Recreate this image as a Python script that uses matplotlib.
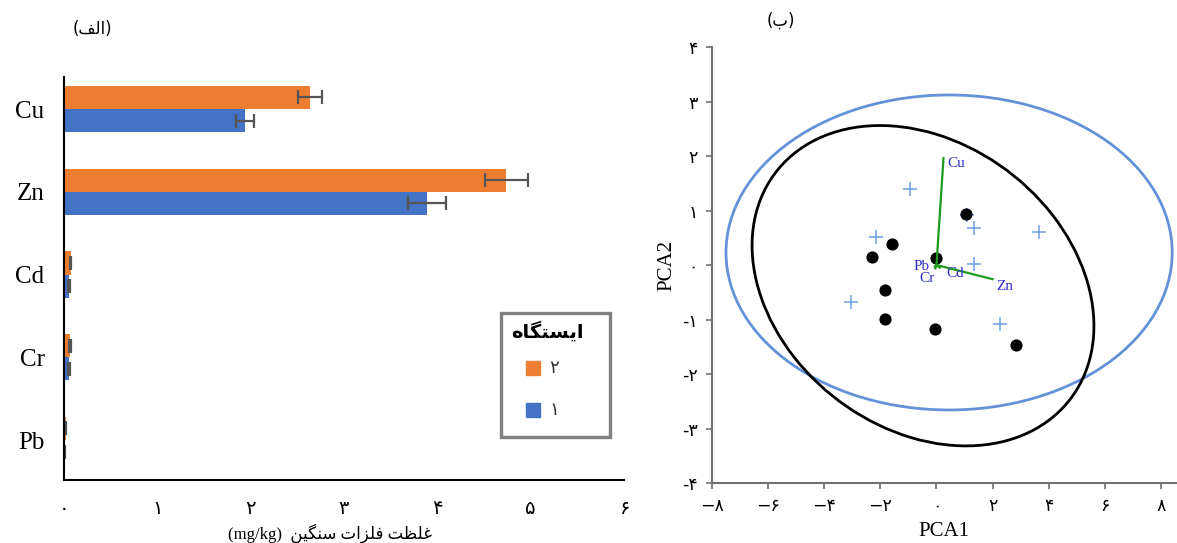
import numpy as np
import matplotlib
matplotlib.use('Agg')
import matplotlib.pyplot as plt
from matplotlib.patches import Ellipse, Rectangle
from matplotlib.lines import Line2D

plt.rcParams['font.family'] = ['Liberation Serif', 'DejaVu Sans']

# ---------------- data: panel (الف) ----------------
metals = ['Cu', 'Zn', 'Cd', 'Cr', 'Pb']
station2_mean = [2.64, 4.74, 0.07, 0.06, 0.02]
station2_err = [0.13, 0.23, 0.01, 0.01, 0.005]
station1_mean = [1.94, 3.89, 0.05, 0.05, 0.01]
station1_err = [0.10, 0.20, 0.01, 0.01, 0.005]
bar_xticks = [0, 1, 2, 3, 4, 5, 6]
legend_labels = [2, 1]

# ---------------- data: panel (ب) ----------------
dots_x = [1.07, -1.57, -2.28, 0.00, -1.85, -1.82, -0.04, 2.82]
dots_y = [0.94, 0.39, 0.15, 0.13, -0.46, -0.99, -1.17, -1.47]
plus_x = [-0.96, -2.17, 1.32, 3.67, 1.32, -3.06, 2.28, 1.10]
plus_y = [1.39, 0.51, 0.68, 0.61, 0.02, -0.68, -1.08, 0.92]
loading_names = ['Cu', 'Zn', 'Pb', 'Cr', 'Cd']
loading_x = [0.25, 2.00, -0.06, -0.04, 0.12]
loading_y = [1.96, -0.26, -0.03, -0.06, -0.05]
blue_ell_center = [0.45, 0.23]
blue_ell_sd = [7.95, 2.89]
black_ell_center = [-0.48, -0.38]
black_ell_cov = [[37.1, -4.5], [-4.5, 8.64]]
pca_xticks = [-8, -6, -4, -2, 0, 2, 4, 6, 8]
pca_yticks = [-4, -3, -2, -1, 0, 1, 2, 3, 4]

FA = '۰۱۲۳۴۵۶۷۸۹'


def fa(n, minus='-'):
    s = ''.join(FA[int(c)] for c in str(abs(int(n))))
    return (minus + s) if n < 0 else s


ORANGE = '#ED7D31'
BLUE = '#4472C4'

fig = plt.figure(figsize=(11.77, 5.43), dpi=100)
W, H = 1177.0, 543.0

# ================= left panel =================
ax = fig.add_axes([0.0544, 0.1160, 0.4756, 0.7422])
ypos = np.arange(len(metals))[::-1].astype(float)
h = 0.28
ekw = dict(ecolor='#555555', elinewidth=1.6, capsize=5, capthick=1.6)
ax.barh(ypos + h / 2, station2_mean, height=h, color=ORANGE, xerr=station2_err,
        error_kw=ekw, zorder=2)
ax.barh(ypos - h / 2, station1_mean, height=h, color=BLUE, xerr=station1_err,
        error_kw=ekw, zorder=2)
ax.set_xlim(0, 6)
ax.set_ylim(-0.483, 4.387)
ax.set_yticks(ypos)
ax.set_yticklabels(metals, fontsize=18, family='Liberation Serif')
ax.set_xticks(bar_xticks)
ax.set_xticklabels([fa(v) for v in bar_xticks], fontsize=14, family='DejaVu Sans')
ax.tick_params(axis='both', length=0)
ax.tick_params(axis='x', pad=14)
ax.tick_params(axis='y', pad=14)
for s in ['top', 'right']:
    ax.spines[s].set_visible(False)
for s in ['left', 'bottom']:
    ax.spines[s].set_linewidth(1.5)
    ax.spines[s].set_color('black')

# x label (visual order, Arabic presentation forms)
w1 = '\uFE96\uFEC8\uFEE0\uFECF'
w2 = '\uFE95\uFE8D\uFEB0\uFEE0\uFED3'
w3 = '\uFEE6\uFBFF\uFB95\uFEE8\uFEB3'
fig.text(330 / W, 1 - 533 / H, '(mg/kg)  ' + w3 + ' ' + w2 + ' ' + w1,
         ha='center', va='center', fontsize=12, family=['Liberation Serif', 'DejaVu Sans'])
fig.text(92 / W, 1 - 29 / H, '(\uFED2\uFEDF\uFE8D)', ha='center', va='center',
         fontsize=12, family='DejaVu Sans')

# legend (drawn as a framed key)
title = '\uFEE9\uFE8E\uFB95\uFE98\uFEB4\uFBFE\uFE8D'
fig.patches.append(Rectangle((501 / W, 1 - 437 / H), 109 / W, 124 / H, transform=fig.transFigure,
                             fill=False, ec='#808080', lw=2.4, figure=fig))
fig.text(547 / W, 1 - 331 / H, title, ha='center', va='center', fontsize=14,
         fontweight='bold', family='DejaVu Sans')
for lab, col, yy in zip(legend_labels, [ORANGE, BLUE], [368, 410]):
    fig.add_artist(Line2D([533 / W], [1 - yy / H], ls='', marker='s', ms=10, color=col,
                          transform=fig.transFigure))
    fig.text(549 / W, 1 - yy / H, fa(lab), ha='left', va='center', fontsize=13,
             family='DejaVu Sans', color='#333333')

# ================= right panel =================
bx = fig.add_axes([0.6049, 0.1105, 0.3946, 0.8029])
bx.set_xlim(-8, 8.55)
bx.set_ylim(-4, 4)
for s in ['top', 'right']:
    bx.spines[s].set_visible(False)
for s in ['left', 'bottom']:
    bx.spines[s].set_linewidth(1.5)
    bx.spines[s].set_color('#707070')
bx.set_xticks(pca_xticks)
bx.set_xticklabels([fa(v, '\u2212') for v in pca_xticks], fontsize=12.5, family='DejaVu Sans')
bx.set_yticks(pca_yticks)
bx.set_yticklabels([fa(v) for v in pca_yticks], fontsize=12.5, family='DejaVu Sans')
bx.tick_params(axis='both', direction='out', length=4, width=1.2, color='#707070', pad=6)
bx.set_xlabel('PCA1', fontsize=15, family='Liberation Serif', labelpad=5)
bx.set_ylabel('PCA2', fontsize=15, family='Liberation Serif', labelpad=4)

bx.add_patch(Ellipse(blue_ell_center, 2 * blue_ell_sd[0], 2 * blue_ell_sd[1],
                     fill=False, ec='#6392D8', lw=2))
cov = np.array(black_ell_cov)
vals, vecs = np.linalg.eigh(cov)
order = vals.argsort()[::-1]
vals, vecs = vals[order], vecs[:, order]
ang = np.degrees(np.arctan2(vecs[1, 0], vecs[0, 0]))
bx.add_patch(Ellipse(black_ell_center, 2 * np.sqrt(vals[0]), 2 * np.sqrt(vals[1]), angle=ang,
                     fill=False, ec='black', lw=2))

bx.scatter(plus_x, plus_y, marker='+', s=110, color='#6F9FE3', linewidths=1.1, zorder=3)
bx.scatter(dots_x, dots_y, marker='o', s=60, color='black', zorder=4)

label_offsets = {'Cu': (3, -4, 'left'), 'Zn': (3, -5, 'left'), 'Pb': (-4, 0, 'right'),
                 'Cr': (-6, -7, 'center'), 'Cd': (11, -4, 'center')}
for name, lx, ly in zip(loading_names, loading_x, loading_y):
    bx.plot([0, lx], [0, ly], color='#1E9A1E', lw=1.6, zorder=5)
    dx, dy, ha = label_offsets[name]
    bx.annotate(name, (lx, ly), xytext=(dx, dy), textcoords='offset points', ha=ha, va='center',
                fontsize=11, color='#2E2ECF', family='Liberation Serif', zorder=6)

fig.text(781 / W, 1 - 21 / H, '(\uFE8F)', ha='center', va='center', fontsize=12,
         family='DejaVu Sans')

fig.savefig('out.png', dpi=100)
